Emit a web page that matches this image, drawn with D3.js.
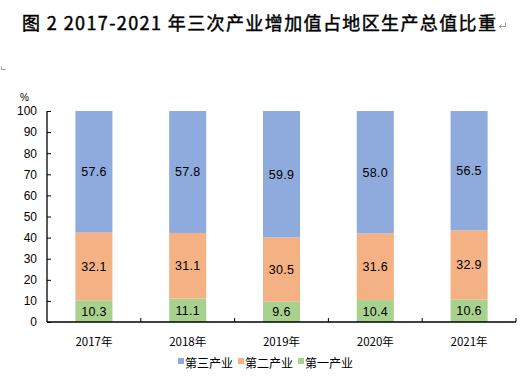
<!DOCTYPE html>
<html>
<head>
<meta charset="utf-8">
<script src="https://cdn.jsdelivr.net/npm/d3@7"></script>
<style>
  html, body { margin: 0; padding: 0; background: #fff; }
  svg { display: block; }
</style>
</head>
<body>
<div id="chart"></div>
<script>
// Chart data
const years = ["2017年", "2018年", "2019年", "2020年", "2021年"];
const primary = [10.3, 11.1, 9.6, 10.4, 10.6];
const secondary = [32.1, 31.1, 30.5, 31.6, 32.9];
const tertiary = [57.6, 57.8, 59.9, 58.0, 56.5];
const seriesNames = ["第一产业", "第二产业", "第三产业"];
const seriesColors = ["#a9d18e", "#f4b183", "#8faadc"];
const yTicks = [0, 10, 20, 30, 40, 50, 60, 70, 80, 90, 100];

const width = 524, height = 377;
const margin = { top: 111, right: 8, bottom: 55, left: 47 };
const innerWidth = width - margin.left - margin.right;
const innerHeight = height - margin.top - margin.bottom;

const cjkFont = "'Noto Sans CJK SC', sans-serif";
const numFont = "'Liberation Sans', Arial, sans-serif";

const svg = d3.select("#chart").append("svg")
  .attr("width", width).attr("height", height);

// Title
svg.append("text")
  .attr("x", 22).attr("y", 30)
  .style("font-family", cjkFont)
  .style("font-size", "18px").style("font-weight", "normal")
  .attr("stroke", "#000").attr("stroke-width", 0.45)
  .attr("textLength", 474)
  .text("图 2 2017-2021 年三次产业增加值占地区生产总值比重");
// paragraph marks
svg.append("path")
  .attr("d", "M505.5,22.5 V26.5 H499.5 M501.5,24.5 L499.5,26.5 L501.5,28.5")
  .attr("fill", "none").attr("stroke", "#999").attr("stroke-width", 1);
svg.append("path")
  .attr("d", "M1.5,66.5 V69.5 H5.5")
  .attr("fill", "none").attr("stroke", "#999").attr("stroke-width", 1);

const plot = svg.append("g").attr("transform", `translate(${margin.left},${margin.top})`);

const x = d3.scaleBand().domain(years).range([0, innerWidth]).paddingInner(0.605).paddingOuter(0.3025);
const y = d3.scaleLinear().domain([0, 100]).range([innerHeight, 0]);

// Stack rows
const rows = years.map((yr, i) => ({ year: yr, "第一产业": primary[i], "第二产业": secondary[i], "第三产业": tertiary[i] }));
const stacked = d3.stack().keys(seriesNames)(rows);

stacked.forEach((layer, li) => {
  const g = plot.append("g");
  g.selectAll("rect").data(layer).join("rect")
    .attr("x", d => x(d.data.year))
    .attr("y", d => y(d[1]))
    .attr("width", x.bandwidth())
    .attr("height", d => y(d[0]) - y(d[1]))
    .attr("fill", seriesColors[li]);
  g.selectAll("text").data(layer).join("text")
    .attr("x", d => x(d.data.year) + x.bandwidth() / 2)
    .attr("y", d => (y(d[0]) + y(d[1])) / 2 + 4.5)
    .attr("text-anchor", "middle")
    .style("font-family", numFont)
    .style("font-size", "12.5px")
    .style("letter-spacing", "0.3px")
    .text(d => d.data[layer.key].toFixed(1));
});

// Y axis with inward ticks
const yAxis = plot.append("g").call(d3.axisLeft(y).tickValues(yTicks).tickSize(-4).tickPadding(10));
yAxis.select(".domain").attr("d", `M0,0V${innerHeight}`).attr("stroke-width", 1.3);
yAxis.selectAll("text").style("font-family", numFont).style("font-size", "12px").attr("fill", "#000");

// X axis: category separator ticks pointing up
const step = innerWidth / years.length;
const xAxis = plot.append("g").attr("transform", `translate(0,${innerHeight})`);
xAxis.append("line").attr("x1", 0).attr("x2", innerWidth).attr("stroke", "#000").attr("stroke-width", 1.3);
xAxis.selectAll("line.sep").data(d3.range(1, years.length + 1)).join("line")
  .attr("class", "sep")
  .attr("x1", d => d * step).attr("x2", d => d * step)
  .attr("y1", 0).attr("y2", -4).attr("stroke", "#000");
xAxis.selectAll("text").data(years).join("text")
  .attr("x", d => x(d) + x.bandwidth() / 2)
  .attr("y", 24)
  .attr("text-anchor", "middle")
  .style("font-family", cjkFont)
  .style("font-size", "11.5px")
  .text(d => d);

// Unit label
svg.append("text").attr("x", 20).attr("y", 101)
  .style("font-family", numFont).style("font-size", "10px").text("%");

// Legend
const legendItems = [
  { name: "第三产业", color: seriesColors[2], x: 178 },
  { name: "第二产业", color: seriesColors[1], x: 238 },
  { name: "第一产业", color: seriesColors[0], x: 298 }
];
const legend = svg.append("g");
legendItems.forEach(it => {
  legend.append("rect").attr("x", it.x).attr("y", 358).attr("width", 6).attr("height", 6).attr("fill", it.color);
  legend.append("text").attr("x", it.x + 7).attr("y", 368)
    .style("font-family", cjkFont).style("font-size", "12px").text(it.name);
});
</script>
</body>
</html>
